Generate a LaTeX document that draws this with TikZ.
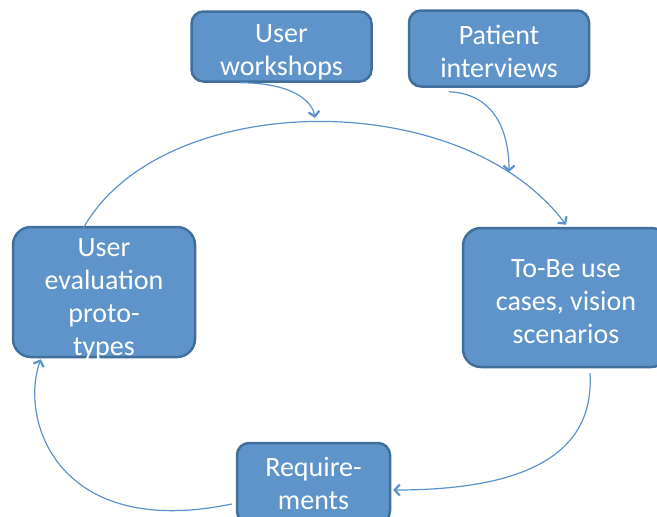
\documentclass[tikz,border=0pt]{standalone}
\usepackage{fontspec}
\setmainfont{Carlito}
\usetikzlibrary{calc}
\usetikzlibrary{positioning}
\usetikzlibrary{arrows.meta}
\definecolor{boxfill}{RGB}{95,148,202}
\definecolor{boxline}{RGB}{65,111,155}
\definecolor{flow}{RGB}{91,146,204}
\tikzstyle{stepnode} = [draw=boxline, fill=boxfill, line width=2.5pt, rounded corners=18pt, inner sep=0pt]
\tikzstyle{srcnode} = [stepnode, rounded corners=12pt]
\tikzstyle{steptext} = [text=white, align=center, font=\fontsize{28}{33}\selectfont, inner sep=0pt]
\tikzstyle{flowline} = [draw=flow, line width=1.2pt, -{Straight Barb[length=5pt,width=11pt,line width=2.2pt]}]

\begin{document}
\begin{tikzpicture}[x=1pt, y=-1pt]
    \useasboundingbox (0,0) rectangle (657,517);

    \node[srcnode, minimum width=180pt, minimum height=70pt] (workshops) at (281.5,46.5) {};
    \node[srcnode, minimum width=180pt, minimum height=76pt] (interviews) at ($(workshops)+(217.5,2)$) {};
    \node[stepnode, minimum width=182pt, minimum height=130pt] (evaluation) at (104,292) {};
    \node[stepnode, minimum width=206pt, minimum height=139pt] (tobe) at ($(evaluation)+(462,5.5)$) {};
    \node[srcnode, minimum width=153pt, minimum height=80pt] (requirements) at (313.5,483) {};

    \node[steptext] (workshops_txt) at ($(workshops)+(0,6)$) {User\\workshops};
    \node[steptext] (interviews_txt) at ($(interviews)+(0,3)$) {Patient\\interviews};
    \node[steptext] (evaluation_txt) at ($(evaluation)+(0,7)$) {User\\evaluation\\proto-\\types};
    \node[steptext] (tobe_txt) at ($(tobe)+(0,4)$) {To-Be use\\cases, vision\\scenarios};
    \node[steptext] (requirements_txt) at (requirements) {Require-\\ments};

    \coordinate (ws_in) at (315,118);
    \coordinate (pi_in) at (509,172);

    \draw[flowline] ($(evaluation.north)+(-21,3)$) .. controls +(77,-139) and +(-106,-141) .. ($(tobe.north)+(0,-2)$);
    \draw[flowline] ($(workshops.south)+(-41,0)$) .. controls +(50,0) and +(-3,-18) .. (ws_in);
    \draw[flowline] ($(interviews.south)+(-50,4)$) .. controls +(46,2) and +(0,-40) .. (pi_in);
    \draw[flowline] ($(tobe.south)+(24,5)$) .. controls +(5,85) and +(125,0) .. ($(requirements.east)+(2,7)$);
    \draw[flowline] ($(requirements.west)+(-4,21)$) .. controls +(-173,36) and +(-22,62) .. ($(evaluation.south west)+(29,1)$);
\end{tikzpicture}
\end{document}
